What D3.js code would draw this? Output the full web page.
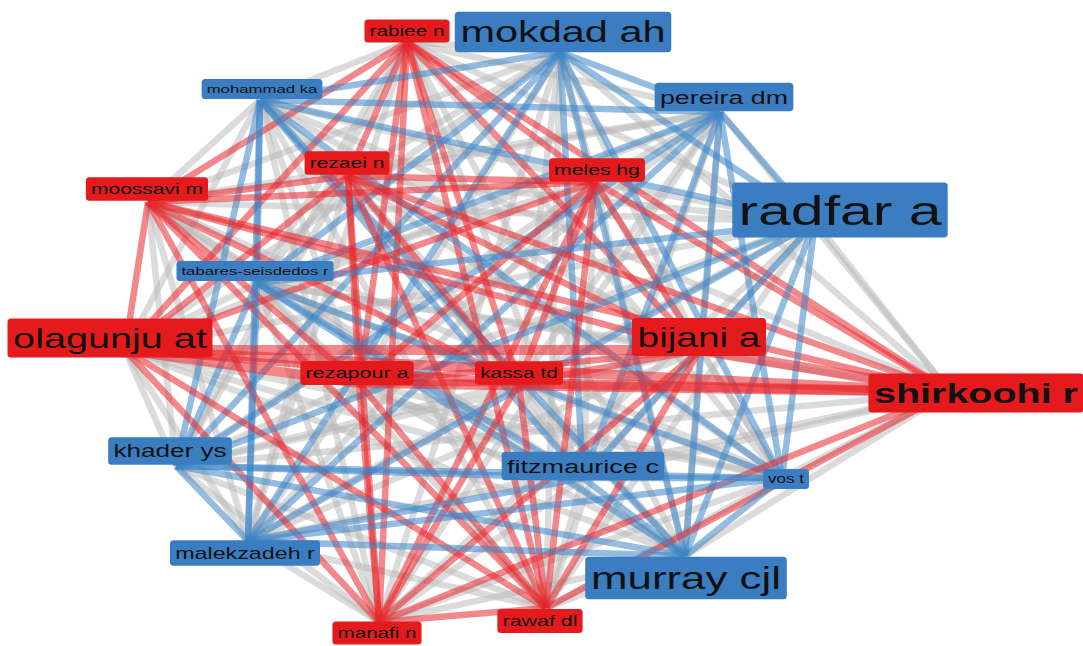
<!DOCTYPE html>
<html>
<head>
<meta charset="utf-8">
<script src="https://cdn.jsdelivr.net/npm/d3@7"></script>
<style>
  html, body { margin: 0; padding: 0; background: #fff; }
  svg { display: block; }
</style>
</head>
<body>
<div id="chart"></div>
<script>
// authors of the co-authorship network
const authors = [
    'rabiee n', 'mokdad ah', 'mohammad ka', 'pereira dm', 'rezaei n',
    'meles hg', 'moossavi m', 'radfar a', 'tabares-seisdedos r', 'olagunju at',
    'bijani a', 'rezapour a', 'kassa td', 'shirkoohi r', 'khader ys',
    'fitzmaurice c', 'vos t', 'malekzadeh r', 'murray cjl', 'manafi n', 'rawaf dl'
];
// cluster: 1 = red, 2 = blue
const cluster = [1, 2, 2, 2, 1, 1, 1, 2, 2, 1, 1, 1, 1, 1, 2, 2, 2, 2, 2, 1, 1];
// layout coordinates of the nodes
const layoutX = [40.7, 56.0, 26.0, 72.0, 34.8, 59.5, 14.8, 81.5, 25.7, 12.5, 70.0,
                 35.9, 51.9, 95.0, 17.6, 58.3, 78.2, 24.8, 68.5, 37.9, 54.6];
const layoutY = [4.2, 5.2, 10.0, 11.2, 17.6, 18.2, 20.2, 22.2, 28.3, 35.0, 35.0,
                 38.3, 38.3, 39.2, 46.6, 47.8, 47.8, 54.1, 55.6, 62.2, 60.8];
// label nudge from the node, same units
const labelDX = [0, 0.3, 0.2, 0.4, -0.1, 0.2, -0.1, 2.5, -0.2, -1.5, -0.1,
                 -0.2, 0, 2.6, -0.6, 0, 0.4, -0.3, 0.1, -0.2, -0.6];
const labelDY = [-1.1, -2.0, -1.1, -1.5, -1.3, -1.2, -1.3, -1.2, -1.2, -1.2, -1.3,
                 -1.0, -1.0, 0.1, -1.5, -1.2, 0.1, 1.2, 2.2, 1.1, 1.3];
// relative label size
const labelWeight = [14.6, 29.2, 11.8, 18.9, 14.8, 14.9, 14.8, 41.5, 11.8, 27.9, 27.3,
                     15.2, 14.7, 27.8, 18.4, 19.1, 12.0, 16.4, 30.9, 14.5, 15.1];
// links that are drawn thicker than the rest (every pair is linked)
const strongLinks = [
    ['olagunju at', 'shirkoohi r'],
    ['rezapour a', 'shirkoohi r'],
    ['kassa td', 'shirkoohi r'],
    ['olagunju at', 'bijani a'],
    ['olagunju at', 'rezapour a'],
    ['bijani a', 'shirkoohi r']
];
const boldLabels = ['shirkoohi r'];

var width = 1083,
    height = 646;

var svg = d3.select('#chart')
            .append('svg')
            .attr('width', width)
            .attr('height', height);

svg.append('rect')
    .attr('width', width)
    .attr('height', height)
    .attr('fill', '#fff');

var x = d3.scaleLinear().domain([0, 108.3]).range([0, width]);
var y = d3.scaleLinear().domain([0, 64.6]).range([0, height]);
var fontSize = d3.scaleLinear().domain(d3.extent(labelWeight)).range([11.8, 41.5]);
var linkWidth = d3.scaleLinear().domain([1, 2]).range([6.5, 10]);

var boxColor = d3.scaleOrdinal().domain([1, 2]).range(['#e41a1c', '#3b7dc1']);
var edgeColor = d3.scaleOrdinal().domain([0, 1, 2]).range(['#b8b8b8', '#e8262b', '#3d85c6']);

var nodes = authors.map((name, i) => ({
    name: name,
    cluster: cluster[i],
    x: layoutX[i],
    y: layoutY[i],
    lx: layoutX[i] + labelDX[i],
    ly: layoutY[i] + labelDY[i],
    weight: labelWeight[i]
}));

function isStrong(a, b) {
    return strongLinks.some(p => (p[0] === a && p[1] === b) || (p[0] === b && p[1] === a));
}

var links = [];
for (var i = 0; i < nodes.length; i++) {
    for (var j = i + 1; j < nodes.length; j++) {
        var same = nodes[i].cluster === nodes[j].cluster ? nodes[i].cluster : 0;
        links.push({
            source: nodes[i],
            target: nodes[j],
            kind: same,
            weight: isStrong(nodes[i].name, nodes[j].name) ? 2 : 1
        });
    }
}
// gray links go underneath
links.sort((a, b) => (a.kind === 0 ? 0 : 1) - (b.kind === 0 ? 0 : 1));

svg.append('g')
    .selectAll('line')
    .data(links)
    .enter()
    .append('line')
    .attr('x1', d => x(d.source.x))
    .attr('y1', d => y(d.source.y))
    .attr('x2', d => x(d.target.x))
    .attr('y2', d => y(d.target.y))
    .attr('stroke', d => edgeColor(d.kind))
    .attr('stroke-opacity', d => d.kind === 0 ? 0.5 : 0.55)
    .attr('stroke-width', d => linkWidth(d.weight));

// labels are stretched sideways like in the picture
var stretch = 1.42;

var label = svg.append('g')
    .selectAll('g')
    .data(nodes)
    .enter()
    .append('g')
    .attr('transform', d => 'translate(' + x(d.lx) + ',' + y(d.ly) + ') scale(' + stretch + ',1)');

label.each(function (d) {
    var g = d3.select(this);
    var f = fontSize(d.weight);
    var text = g.append('text')
        .attr('text-anchor', 'middle')
        .attr('dy', '0.35em')
        .style('font-family', '"Liberation Sans", Arial, sans-serif')
        .style('font-size', f + 'px')
        .style('font-weight', boldLabels.indexOf(d.name) >= 0 ? 'bold' : 'normal')
        .style('fill', '#111')
        .text(d.name);
    var tw = text.node().getComputedTextLength();
    var pad = (4.5 + 0.04 * f) / stretch;
    var w = tw + 2 * pad;
    var h = 1.18 * f + 6;
    g.insert('rect', 'text')
        .attr('x', -w / 2)
        .attr('y', -h / 2)
        .attr('width', w)
        .attr('height', h)
        .attr('rx', 2.5)
        .attr('ry', 3.5)
        .attr('fill', boxColor(d.cluster));
});
</script>
</body>
</html>
